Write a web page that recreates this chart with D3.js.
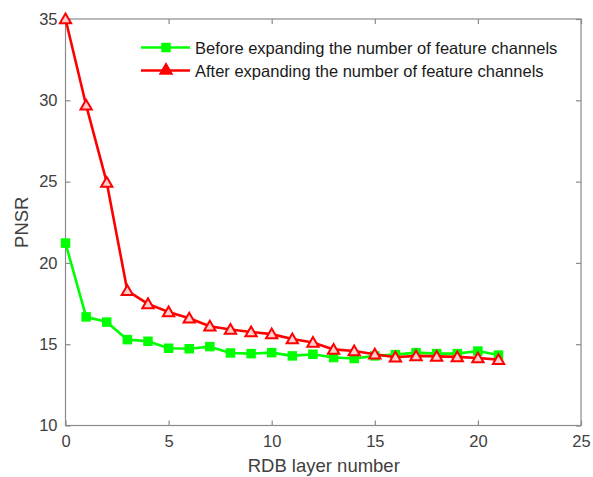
<!DOCTYPE html>
<html>
<head>
<meta charset="utf-8">
<script src="https://cdn.jsdelivr.net/npm/d3@7"></script>
<style>
  html, body { margin: 0; padding: 0; background: #fff; }
  svg { display: block; font-family: "Liberation Sans", Arial, Helvetica, sans-serif; }
</style>
</head>
<body>
<svg id="chart" width="593" height="477"></svg>
<script>
// RDB layer index on the x axis
const layers = d3.range(0, 22);
// PSNR before widening the feature channels
const beforeValues = [21.22, 16.68, 16.36, 15.28, 15.18, 14.75, 14.72, 14.85, 14.46, 14.42, 14.48,
                      14.28, 14.38, 14.18, 14.12, 14.28, 14.36, 14.48, 14.42, 14.42, 14.58, 14.33];
// PSNR after widening the feature channels
const afterValues = [35.0, 29.7, 24.95, 18.28, 17.48, 16.98, 16.6, 16.1, 15.9, 15.75, 15.62,
                     15.32, 15.1, 14.68, 14.58, 14.38, 14.2, 14.28, 14.25, 14.22, 14.15, 14.05];
const xTicks = [0, 5, 10, 15, 20, 25];
const yTicks = [10, 15, 20, 25, 30, 35];
const seriesNames = ["Before expanding the number of feature channels",
                     "After expanding the number of feature channels"];
const seriesColors = ["#00ff00", "#ff0000"];

const svg = d3.select("#chart");
const plotLeft = 65.5, plotRight = 581, plotTop = 19, plotBottom = 425.5;

const x = d3.scaleLinear().domain([0, 25]).range([plotLeft, plotRight]);
const y = d3.scaleLinear().domain([10, 35]).range([plotBottom, plotTop]);

const axisColor = "#8a8a8a";
const textColor = "#404040";

// frame
svg.append("rect")
  .attr("x", plotLeft).attr("y", plotTop)
  .attr("width", plotRight - plotLeft).attr("height", plotBottom - plotTop)
  .attr("fill", "none").attr("stroke", axisColor).attr("stroke-width", 1.2);

function styleAxis(g) {
  g.select(".domain").remove();
  g.selectAll(".tick line").attr("stroke", axisColor).attr("stroke-width", 1.2);
  g.selectAll(".tick text").attr("fill", textColor)
    .style("font-size", "16.5px");
}

// bottom / left axes with inward ticks
svg.append("g").attr("transform", `translate(0,${plotBottom})`)
  .call(d3.axisBottom(x).tickValues(xTicks).tickSizeInner(-5).tickSizeOuter(0).tickPadding(10))
  .call(styleAxis);
svg.append("g").attr("transform", `translate(${plotLeft},0)`)
  .call(d3.axisLeft(y).tickValues(yTicks).tickSizeInner(-5).tickSizeOuter(0).tickPadding(8))
  .call(styleAxis);
// mirrored ticks on top / right
svg.append("g").attr("transform", `translate(0,${plotTop})`)
  .call(d3.axisTop(x).tickValues(xTicks).tickSizeInner(-5).tickSizeOuter(0).tickFormat(""))
  .call(styleAxis);
svg.append("g").attr("transform", `translate(${plotRight},0)`)
  .call(d3.axisRight(y).tickValues(yTicks).tickSizeInner(-5).tickSizeOuter(0).tickFormat(""))
  .call(styleAxis);

// axis titles
svg.append("text")
  .attr("x", (plotLeft + plotRight) / 2 + 0.5).attr("y", 472)
  .attr("text-anchor", "middle").attr("fill", textColor)
  .style("font-size", "18.5px").text("RDB layer number");
svg.append("text")
  .attr("transform", `translate(28,${(plotTop + plotBottom) / 2}) rotate(-90)`)
  .attr("text-anchor", "middle").attr("fill", textColor)
  .style("font-size", "18.5px").text("PNSR");

const line = d3.line().x((d, i) => x(layers[i])).y(d => y(d));

const triangle = d3.symbol().type(d3.symbolTriangle).size(55);

function drawSeries(values, color, kind) {
  const g = svg.append("g");
  g.append("path").datum(values)
    .attr("d", line)
    .attr("fill", "none").attr("stroke", color).attr("stroke-width", 2.6)
    .attr("stroke-linejoin", "round");
  if (kind === "square") {
    g.selectAll("rect").data(values).join("rect")
      .attr("x", (d, i) => x(layers[i]) - 4)
      .attr("y", d => y(d) - 4)
      .attr("width", 8).attr("height", 8)
      .attr("fill", color).attr("stroke", color).attr("stroke-width", 1.5);
  } else {
    g.selectAll("path.m").data(values).join("path")
      .attr("class", "m")
      .attr("d", triangle)
      .attr("transform", (d, i) => `translate(${x(layers[i])},${y(d) + 1})`)
      .attr("fill", "#ffd0d0").attr("stroke", color).attr("stroke-width", 2);
  }
}

drawSeries(beforeValues, seriesColors[0], "square");
drawSeries(afterValues, seriesColors[1], "triangle");

// legend
const legend = svg.append("g");
const legendRows = [47.5, 70.5];
seriesNames.forEach((name, i) => {
  const ly = legendRows[i];
  legend.append("line")
    .attr("x1", 141).attr("x2", 190).attr("y1", ly).attr("y2", ly)
    .attr("stroke", seriesColors[i]).attr("stroke-width", 2.6);
  if (i === 0) {
    legend.append("rect").attr("x", 162).attr("y", ly - 4).attr("width", 8).attr("height", 8)
      .attr("fill", seriesColors[i]).attr("stroke", seriesColors[i]).attr("stroke-width", 1.5);
  } else {
    legend.append("path").attr("d", triangle)
      .attr("transform", `translate(166,${ly})`)
      .attr("fill", seriesColors[i]).attr("stroke", seriesColors[i]).attr("stroke-width", 2);
  }
  legend.append("text")
    .attr("x", 195).attr("y", ly + 6)
    .attr("fill", "#1a1a1a").style("font-size", "16.5px")
    .text(name);
});
</script>
</body>
</html>
